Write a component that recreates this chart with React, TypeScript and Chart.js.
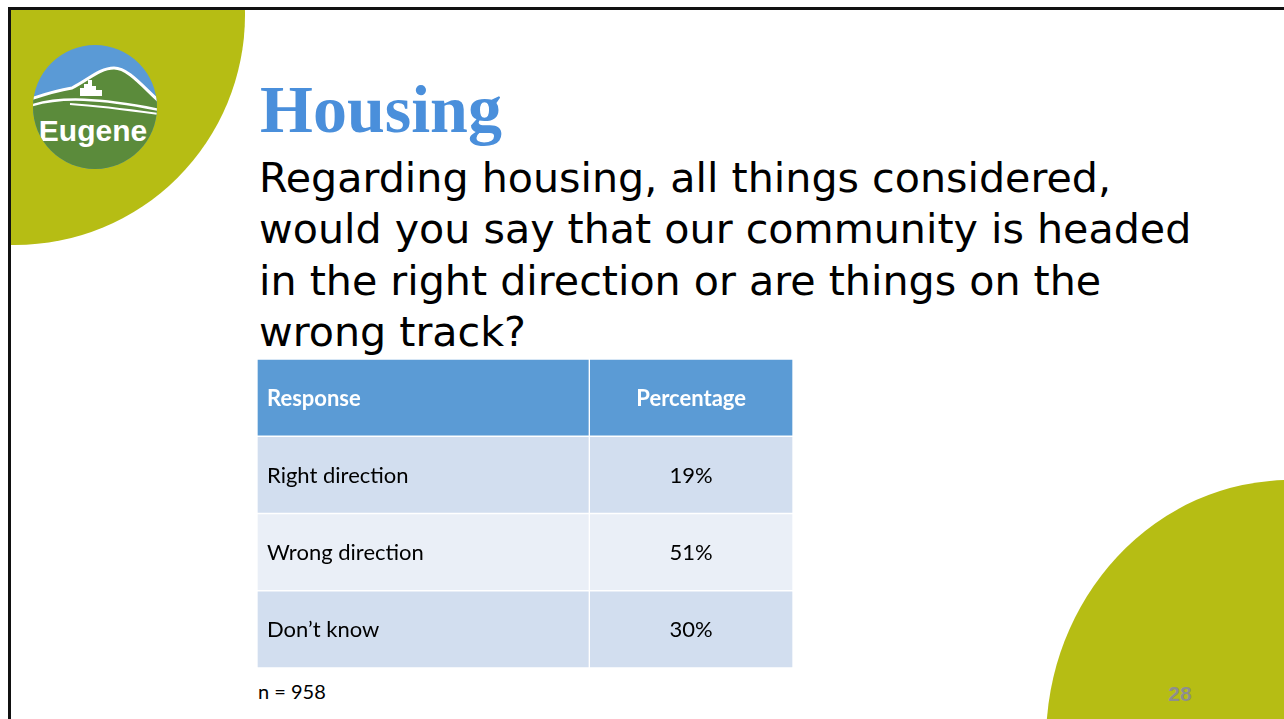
import React, { useEffect, useRef } from "react";
import { Chart, registerables } from "chart.js";

Chart.register(...registerables);

// ---- data ----
const slideTitle = "Housing";
const questionLines = [
  "Regarding housing, all things considered,",
  "would you say that our community is headed",
  "in the right direction or are things on the",
  "wrong track?",
];
const columnHeaders = ["Response", "Percentage"];
const responses = ["Right direction", "Wrong direction", "Don\u2019t know"];
const percentages = [19, 51, 30];
const sampleSize = 958;
const pageNumber = "28";

const HEADER_BLUE = "#5B9BD5";
const ROW_DARK = "#D2DEEF";
const ROW_LIGHT = "#EAEFF7";
const GREEN = "#B6BD14";
const COL_SPLIT = 1.24;

function TableChart() {
  const ref = useRef<HTMLCanvasElement | null>(null);
  useEffect(() => {
    if (!ref.current) return;
    const rowLabels = [columnHeaders[0], ...responses];
    const cellColors = rowLabels.map((_, i) =>
      i === 0 ? HEADER_BLUE : i % 2 === 1 ? ROW_DARK : ROW_LIGHT
    );
    const textPlugin = {
      id: "tableText",
      afterDatasetsDraw(chart: any) {
        const ctx = chart.ctx;
        const xs = chart.scales.x;
        const ys = chart.scales.y;
        ctx.save();
        ctx.textBaseline = "middle";
        rowLabels.forEach((label, i) => {
          const y = ys.getPixelForValue(i) + 1;
          const header = i === 0;
          ctx.fillStyle = header ? "#FFFFFF" : "#000000";
          ctx.font = (header ? "bold " : "") + "22px Lato";
          ctx.textAlign = "left";
          ctx.fillText(label, xs.getPixelForValue(0) + 10, y);
          ctx.textAlign = "center";
          const right = header ? columnHeaders[1] : percentages[i - 1] + "%";
          const cx = (xs.getPixelForValue(COL_SPLIT) + xs.getPixelForValue(2)) / 2;
          ctx.fillText(right, cx, y);
        });
        ctx.restore();
      },
    };
    const chart = new Chart(ref.current, {
      type: "bar",
      data: {
        labels: rowLabels,
        datasets: [
          {
            label: columnHeaders[0],
            data: rowLabels.map(() => [0, COL_SPLIT]) as any,
            backgroundColor: cellColors,
            borderColor: "#FFFFFF",
            borderWidth: 1,
            borderSkipped: false,
            grouped: false,
            barPercentage: 1,
            categoryPercentage: 1,
          } as any,
          {
            label: columnHeaders[1],
            data: rowLabels.map(() => [COL_SPLIT, 2]) as any,
            backgroundColor: cellColors,
            borderColor: "#FFFFFF",
            borderWidth: 1,
            borderSkipped: false,
            grouped: false,
            barPercentage: 1,
            categoryPercentage: 1,
          } as any,
        ],
      },
      options: {
        indexAxis: "y",
        animation: false,
        responsive: true,
        maintainAspectRatio: false,
        layout: { padding: 0 },
        scales: {
          x: { type: "linear", min: 0, max: 2, display: false },
          y: { type: "category", display: false, offset: true },
        },
        plugins: {
          legend: { display: false },
          tooltip: { enabled: false },
          title: { display: false },
        },
        events: [],
      },
      plugins: [textPlugin],
    });
    return () => chart.destroy();
  }, []);
  return (
    <div style={{ position: "absolute", left: 257, top: 359, width: 536, height: 309 }}>
      <canvas ref={ref} />
    </div>
  );
}

export default function App() {
  return (
    <div
      style={{
        position: "absolute",
        left: 0,
        top: 0,
        width: 1284,
        height: 719,
        overflow: "hidden",
        background: "#FFFFFF",
      }}
    >
      <svg
        width={1284}
        height={719}
        style={{ position: "absolute", left: 0, top: 0 }}
      >
        <defs>
          <clipPath id="slideClip">
            <rect x={11} y={10} width={1273} height={709} />
          </clipPath>
          <clipPath id="logoClip">
            <circle cx={95} cy={107} r={62} />
          </clipPath>
        </defs>
        <g clipPath="url(#slideClip)">
          <circle cx={15} cy={15} r={230} fill={GREEN} />
          <ellipse cx={1290} cy={741} rx={244} ry={261} fill={GREEN} />
        </g>
        {/* border */}
        <rect x={8} y={7} width={1276} height={3} fill="#111" />
        <rect x={8} y={7} width={3} height={712} fill="#111" />
        {/* logo */}
        <g clipPath="url(#logoClip)">
          <rect x={30} y={40} width={130} height={130} fill="#5A9AD6" />
          <path
            d="M 28 100 C 45 94, 60 90, 72 88 C 88 80, 100 68, 114 68 C 128 68, 142 86, 162 104 L 162 175 L 28 175 Z"
            fill="#5B8B3B"
            stroke="#FFFFFF"
            strokeWidth={3}
          />
          <path
            d="M 80 96 L 80 88 L 84 88 L 84 84 L 88 84 L 88 80 L 92 80 L 92 86 L 96 86 L 96 90 L 102 90 L 102 96 Z"
            fill="#FFFFFF"
          />
          <path d="M 30 106 C 60 96, 100 98, 160 110" fill="none" stroke="#FFFFFF" strokeWidth={2.5} />
          <path d="M 70 104 C 100 106, 130 110, 158 114" fill="none" stroke="#FFFFFF" strokeWidth={2} />
          <text
            x={93}
            y={141}
            textAnchor="middle"
            fill="#FFFFFF"
            fontFamily="'Liberation Sans', Arial, sans-serif"
            fontWeight="bold"
            fontSize={30}
          >
            Eugene
          </text>
        </g>
        {/* title */}
        <text
          x={260}
          y={132}
          fill="#4A8FDB"
          fontFamily="'Liberation Serif', serif"
          fontWeight="bold"
          fontSize={68}
        >
          {slideTitle}
        </text>
        {questionLines.map((line, i) => (
          <text
            key={i}
            x={259}
            y={192 + i * 51.3}
            fill="#000000"
            fontFamily="'DejaVu Sans', sans-serif"
            fontSize={41.2}
          >
            {line}
          </text>
        ))}
        <text
          x={258}
          y={699}
          fill="#000000"
          fontFamily="Lato, sans-serif"
          fontSize={20}
        >
          {"n = " + sampleSize}
        </text>
        <text
          x={1180}
          y={701}
          textAnchor="middle"
          fill="#8E8E8E"
          fontFamily="'Liberation Sans', Arial, sans-serif"
          fontWeight="bold"
          fontSize={21}
        >
          {pageNumber}
        </text>
      </svg>
      <TableChart />
    </div>
  );
}
